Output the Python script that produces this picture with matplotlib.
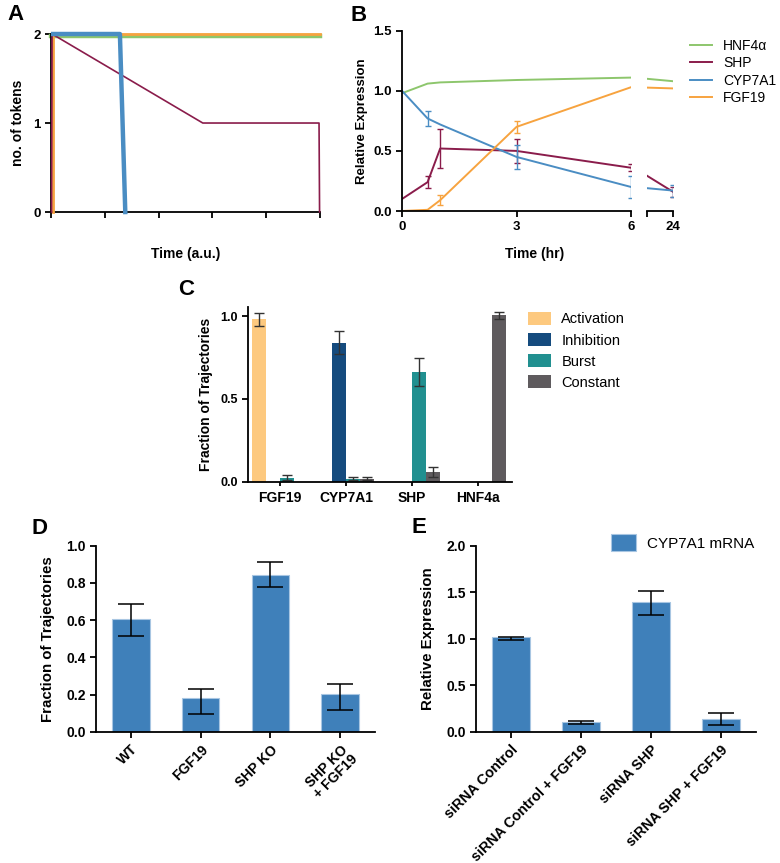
import matplotlib
matplotlib.use('Agg')
import matplotlib.pyplot as plt
import numpy as np
from matplotlib.lines import Line2D

plt.rcParams['font.family'] = ['Liberation Sans', 'DejaVu Sans']
plt.rcParams['font.weight'] = 'bold'
plt.rcParams['axes.labelweight'] = 'bold'
plt.rcParams['axes.linewidth'] = 1.3
plt.rcParams['xtick.major.width'] = 1.3
plt.rcParams['ytick.major.width'] = 1.3

GREEN = '#8dc66c'
MAROON = '#8a1c4b'
BLUE = '#4a8dc3'
ORANGE = '#f7a33f'

# --- panel A: token traces (arbitrary time) ---
a_hnf4_t = [0, 5]
a_hnf4_n = [1.98, 1.98]
a_fgf19_t = [0.03, 0.03, 5]
a_fgf19_n = [0, 2, 2]
a_shp_t = [0.01, 0.02, 2.82, 4.98, 4.99]
a_shp_n = [0, 2, 1, 1, 0]
a_cyp_t = [0.04, 1.28, 1.38]
a_cyp_n = [2, 2, 0]

# --- panel B: relative expression time course ---
b_time = [0, 0.67, 1, 3, 6, 24]
b_hnf4 = [0.98, 1.06, 1.07, 1.09, 1.11, 1.08]
b_shp = [0.10, 0.24, 0.52, 0.50, 0.36, 0.16]
b_shp_err = [0, 0.05, 0.16, 0.10, 0.03, 0.04]
b_cyp = [1.0, 0.77, 0.72, 0.45, 0.20, 0.17]
b_cyp_err = [0, 0.06, 0, 0.10, 0.09, 0.05]
b_fgf = [0.0, 0.01, 0.09, 0.70, 1.03, 1.02]
b_fgf_err = [0, 0, 0.04, 0.05, 0, 0]

# --- panel C: trajectory classes ---
c_genes = ['FGF19', 'CYP7A1', 'SHP', 'HNF4a']
c_classes = ['Activation', 'Inhibition', 'Burst', 'Constant']
c_activation = [0.98, 0, 0, 0]
c_inhibition = [0, 0.84, 0, 0]
c_burst = [0.027, 0.02, 0.665, 0]
c_constant = [0, 0.02, 0.06, 1.005]
c_activation_err = [0.04, 0, 0, 0]
c_inhibition_err = [0, 0.07, 0, 0]
c_burst_err = [0.015, 0.008, 0.085, 0]
c_constant_err = [0, 0.008, 0.028, 0.022]
c_colors = ['#fdc97f', '#154b7e', '#219090', '#5f5b5e']

# --- panel D ---
d_labels = ['WT', 'FGF19', 'SHP KO', 'SHP KO\n+ FGF19']
d_values = [0.605, 0.18, 0.84, 0.205]
d_err_low = [0.088, 0.083, 0.062, 0.088]
d_err_high = [0.084, 0.051, 0.072, 0.055]

# --- panel E ---
e_labels = ['siRNA Control', 'siRNA Control + FGF19', 'siRNA SHP', 'siRNA SHP + FGF19']
e_values = [1.015, 0.105, 1.395, 0.142]
e_err_low = [0.03, 0.023, 0.14, 0.071]
e_err_high = [0.007, 0.008, 0.115, 0.057]

BAR = '#3f80ba'

fig = plt.figure(figsize=(7.8, 8.63), dpi=100)


def clean(ax):
    ax.spines['top'].set_visible(False)
    ax.spines['right'].set_visible(False)


# ---------------- A ----------------
axA = fig.add_axes([0.0654, 0.7543, 0.345, 0.2063])
axA.plot(a_hnf4_t, a_hnf4_n, color=GREEN, lw=3.2, clip_on=False, zorder=2)
axA.plot(a_fgf19_t, a_fgf19_n, color=ORANGE, lw=2.0, clip_on=False, zorder=3)
axA.plot(a_shp_t, a_shp_n, color=MAROON, lw=1.2, clip_on=False, zorder=4)
axA.plot(a_cyp_t, a_cyp_n, color=BLUE, lw=3.2, clip_on=False, zorder=5)
axA.set_xlim(0, 5)
axA.set_ylim(0, 2)
axA.set_yticks([0, 1, 2])
axA.set_xticks(np.arange(0, 6))
axA.set_xticklabels([])
axA.tick_params(labelsize=9.5, length=4)
axA.set_xlabel('Time (a.u.)', fontsize=10, labelpad=18)
axA.set_ylabel('no. of tokens', fontsize=10, labelpad=6)
clean(axA)

# ---------------- B ----------------
axB1 = fig.add_axes([0.5154, 0.7555, 0.2936, 0.2089])
axB2 = fig.add_axes([0.8295, 0.7555, 0.0333, 0.2089])
series = [(b_hnf4, None, GREEN, 'HNF4\u03b1'), (b_shp, b_shp_err, MAROON, 'SHP'),
          (b_cyp, b_cyp_err, BLUE, 'CYP7A1'), (b_fgf, b_fgf_err, ORANGE, 'FGF19')]
t = np.array(b_time)
for ax in (axB1, axB2):
    for vals, err, col, lab in series:
        ax.plot(t, vals, color=col, lw=1.4, label=lab)
        if err is not None:
            e = np.array(err)
            m = e > 0
            ax.errorbar(t[m], np.array(vals)[m], yerr=e[m], fmt='none',
                        ecolor=col, elinewidth=1.0, capsize=2.2, capthick=1.0)
    ax.set_ylim(0, 1.5)
    clean(ax)
axB1.set_xlim(0, 6)
axB1.set_xticks([0, 3, 6])
axB1.set_yticks([0, 0.5, 1.0, 1.5])
axB1.set_yticklabels(['0.0', '0.5', '1.0', '1.5'])
axB1.tick_params(labelsize=9.5, length=4)
axB2.set_xlim(12, 24)
axB2.set_xticks([12, 24])
axB2.set_xticklabels(['', '24'])
axB2.tick_params(axis='x', labelsize=9.5, length=4)
axB2.spines['left'].set_visible(False)
axB2.set_yticks([])
axB1.set_ylabel('Relative Expression', fontsize=9.5, labelpad=4)
axB1.set_xlabel('Time (hr)', fontsize=10, labelpad=10)
axB1.xaxis.set_label_coords(0.58, -0.2)
handles = [Line2D([], [], color=c, lw=1.4) for _, _, c, _ in series]
fig.legend(handles, [s[3] for s in series], loc='upper left',
           bbox_to_anchor=(0.884, 0.955), frameon=False, borderpad=0,
           borderaxespad=0, handlelength=1.65, handletextpad=0.75,
           labelspacing=0.25, prop={'size': 10, 'weight': 'normal'})

# ---------------- C ----------------
axC = fig.add_axes([0.318, 0.4415, 0.3385, 0.2031])
x = np.arange(len(c_genes))
w = 0.205
c_vals = [c_activation, c_inhibition, c_burst, c_constant]
c_errs = [c_activation_err, c_inhibition_err, c_burst_err, c_constant_err]
for i, (vals, errs, col) in enumerate(zip(c_vals, c_errs, c_colors)):
    pos = x + (i - 1.5) * 1.03 * w
    axC.bar(pos, vals, width=w, color=col, label=c_classes[i])
    e = np.array(errs)
    m = e > 0
    axC.errorbar(pos[m], np.array(vals)[m], yerr=e[m], fmt='none',
                 ecolor='#333333', elinewidth=1.0, capsize=3.5, capthick=1.0)
axC.set_xlim(-0.48, 3.51)
axC.set_ylim(0, 1.056)
axC.set_xticks(x)
axC.set_xticklabels(c_genes, fontsize=10)
axC.set_yticks([0, 0.5, 1.0])
axC.set_yticklabels(['0.0', '0.5', '1.0'])
axC.tick_params(axis='y', labelsize=9, length=4)
axC.tick_params(axis='x', length=3)
axC.set_ylabel('Fraction of Trajectories', fontsize=10, labelpad=5)
clean(axC)
axC.legend(loc='upper left', bbox_to_anchor=(1.06, 0.97), frameon=False,
           borderpad=0, borderaxespad=0,
           handlelength=1.6, handleheight=1.0, handletextpad=0.7,
           labelspacing=0.45, prop={'size': 10.5, 'weight': 'normal'})

# ---------------- D ----------------
axD = fig.add_axes([0.1231, 0.1518, 0.3577, 0.2159])
xd = np.arange(len(d_labels))
axD.bar(xd, d_values, width=0.54, color=BAR, edgecolor='#a8c6e2', linewidth=0.8)
axD.errorbar(xd, d_values, yerr=[d_err_low, d_err_high], fmt='none',
             ecolor='black', elinewidth=1.1, capsize=9.5, capthick=1.1)
axD.set_xlim(-0.5, 3.5)
axD.set_ylim(0, 1.0)
axD.set_yticks(np.arange(0, 1.01, 0.2))
axD.set_yticklabels(['0.0', '0.2', '0.4', '0.6', '0.8', '1.0'])
axD.set_xticks(xd)
axD.set_xticklabels(d_labels, rotation=45, ha='right', rotation_mode='anchor',
                    fontsize=10, linespacing=1.0)
axD.tick_params(axis='y', labelsize=10, length=4)
axD.tick_params(axis='x', length=4)
axD.set_ylabel('Fraction of Trajectories', fontsize=10.8, labelpad=8)
clean(axD)

# ---------------- E ----------------
axE = fig.add_axes([0.6103, 0.1518, 0.359, 0.2159])
xe = np.arange(len(e_labels))
axE.bar(xe, e_values, width=0.54, color=BAR, edgecolor='#a8c6e2', linewidth=0.8,
        label='CYP7A1 mRNA')
axE.errorbar(xe, e_values, yerr=[e_err_low, e_err_high], fmt='none',
             ecolor='black', elinewidth=1.1, capsize=9.5, capthick=1.1)
axE.set_xlim(-0.5, 3.5)
axE.set_ylim(0, 2.0)
axE.set_yticks([0, 0.5, 1.0, 1.5, 2.0])
axE.set_yticklabels(['0.0', '0.5', '1.0', '1.5', '2.0'])
axE.set_xticks(xe)
axE.set_xticklabels(e_labels, rotation=45, ha='right', rotation_mode='anchor',
                    fontsize=10.3)
axE.tick_params(axis='y', labelsize=10, length=4)
axE.tick_params(axis='x', length=4)
axE.set_ylabel('Relative Expression', fontsize=10.8, labelpad=8)
clean(axE)
fig.legend(*axE.get_legend_handles_labels(), loc='center left',
           bbox_to_anchor=(0.783, 0.371), frameon=False, borderpad=0,
           borderaxespad=0, handlelength=1.65, handleheight=1.35,
           handletextpad=0.7, prop={'size': 11, 'weight': 'normal'})

# panel letters
for lab, xx, yy in [('A', 0.01, 0.983), ('B', 0.449, 0.982), ('C', 0.228, 0.665),
                    ('D', 0.04, 0.388), ('E', 0.527, 0.389)]:
    fig.text(xx, yy, lab, fontsize=16, fontweight='bold', va='center')

fig.savefig('out.png', dpi=100)
